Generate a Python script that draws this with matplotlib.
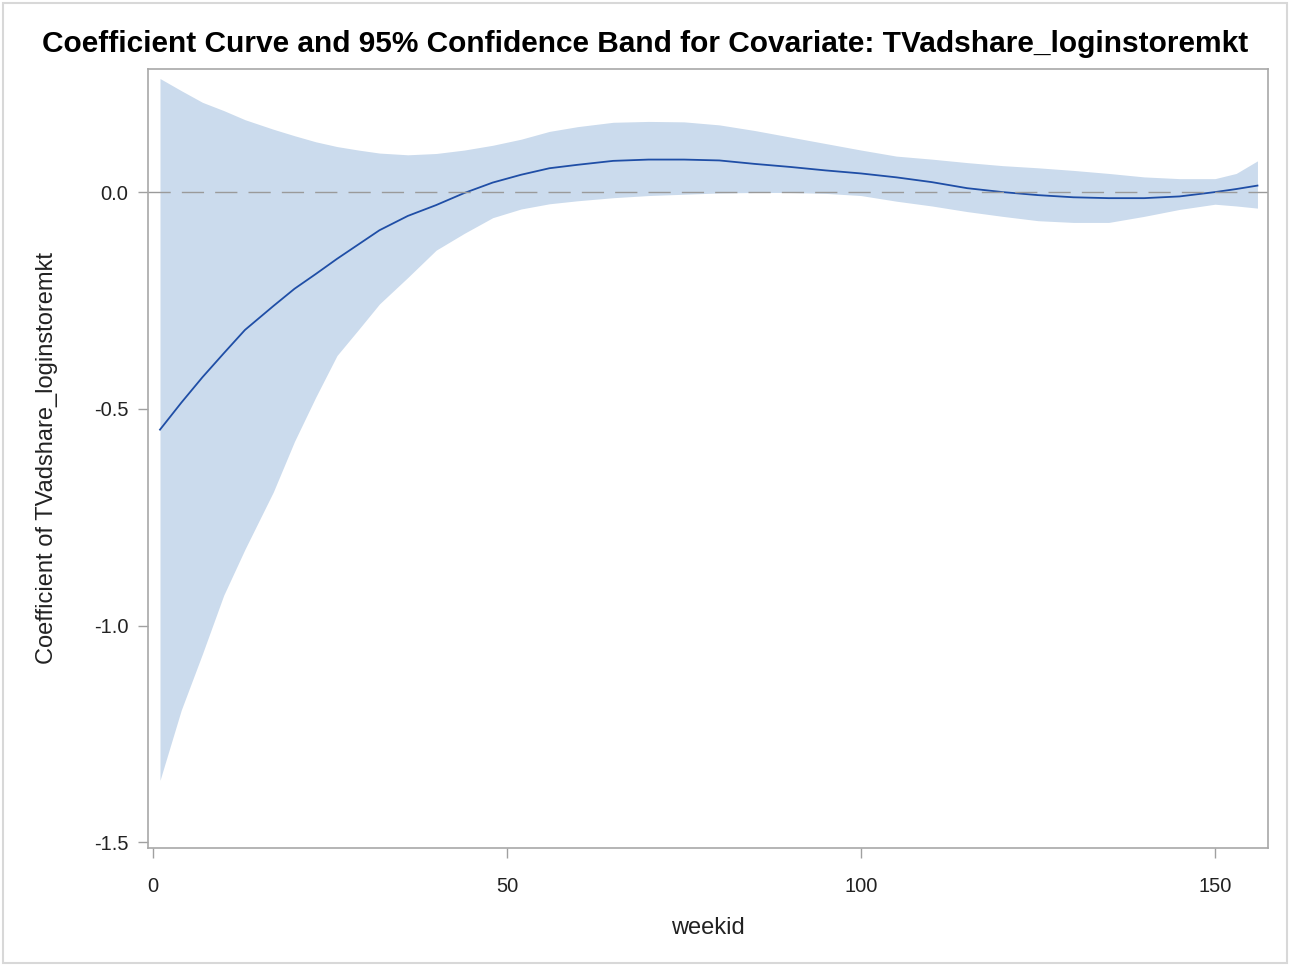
import matplotlib
matplotlib.use("Agg")
import matplotlib.pyplot as plt
from matplotlib.patches import Rectangle

# values
weekid = [1, 4, 7, 10, 13, 17, 20, 23, 26, 29, 32, 36, 40, 44, 48, 52, 56, 60,
          65, 70, 75, 80, 85, 90, 95, 100, 105, 110, 115, 120, 125, 130, 135,
          140, 145, 150, 153, 156]
coef = [-0.548, -0.486, -0.427, -0.372, -0.318, -0.263, -0.223, -0.189, -0.154,
        -0.121, -0.088, -0.055, -0.030, -0.002, 0.022, 0.040, 0.055, 0.063,
        0.072, 0.075, 0.075, 0.073, 0.065, 0.058, 0.050, 0.043, 0.034, 0.023,
        0.009, 0.000, -0.007, -0.012, -0.014, -0.014, -0.010, 0.000, 0.007, 0.015]
upper = [0.262, 0.234, 0.207, 0.188, 0.167, 0.145, 0.130, 0.116, 0.105, 0.097,
         0.090, 0.086, 0.089, 0.097, 0.108, 0.122, 0.140, 0.151, 0.161, 0.163,
         0.162, 0.155, 0.142, 0.127, 0.112, 0.097, 0.083, 0.076, 0.068, 0.061,
         0.056, 0.050, 0.043, 0.035, 0.031, 0.031, 0.043, 0.072]
lower = [-1.357, -1.195, -1.065, -0.930, -0.824, -0.692, -0.575, -0.473, -0.377,
         -0.318, -0.258, -0.197, -0.134, -0.095, -0.059, -0.039, -0.027, -0.020,
         -0.013, -0.008, -0.005, -0.002, -0.001, -0.001, -0.003, -0.008, -0.021,
         -0.032, -0.045, -0.056, -0.066, -0.070, -0.070, -0.056, -0.040, -0.028,
         -0.032, -0.037]

xticks = [0, 50, 100, 150]
yticks = [0.0, -0.5, -1.0, -1.5]
covariate = "TVadshare_loginstoremkt"

plt.rcParams["font.family"] = ["Liberation Sans", "DejaVu Sans"]

fig = plt.figure(figsize=(12.9, 9.66), dpi=100)
ax = fig.add_axes([0.1147, 0.1222, 0.8683, 0.8064])

ax.fill_between(weekid, lower, upper, color="#cbdbed", linewidth=0)
ax.plot(weekid, coef, color="#1f4ea6", linewidth=1.3)
ax.axhline(0, color="#9a9a9a", linewidth=1.0, dashes=(16, 8))

ax.set_xlim(-0.7, 157.5)
ax.set_ylim(-1.513, 0.284)
ax.set_xticks(xticks)
ax.set_yticks(yticks)
ax.set_yticklabels([f"{v:.1f}" for v in yticks])

for side in ["left", "right", "top", "bottom"]:
    ax.spines[side].set_color("#a8a8a8")
    ax.spines[side].set_linewidth(1.2)
ax.tick_params(axis="both", colors="#a0a0a0", labelcolor="#222222",
               length=7, width=1.0, labelsize=14.5, pad=7)
ax.tick_params(axis="x", pad=14)

ax.set_xlabel("weekid", fontsize=17, color="#222222", labelpad=15)
ax.set_ylabel(f"Coefficient of {covariate}", fontsize=17, color="#222222",
              labelpad=26)
fig.suptitle(f"Coefficient Curve and 95% Confidence Band for Covariate: {covariate}",
             fontsize=21.5, fontweight="bold", x=0.5, y=0.969)

fig.patches.append(Rectangle((0.002, 0.003), 0.996, 0.994, transform=fig.transFigure,
                             fill=False, edgecolor="#d8d8d8", linewidth=1.5))

fig.savefig("out.png", dpi=100)
